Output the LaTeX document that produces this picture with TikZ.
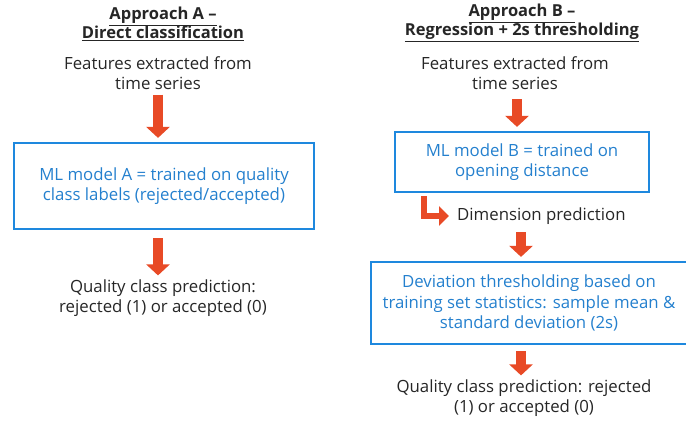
\documentclass[tikz,border=0pt]{standalone}
\usepackage{fontspec}
\setmainfont{Open Sans}
\usepackage{xcolor}
\usetikzlibrary{arrows.meta,positioning,calc}
\definecolor{boxblue}{RGB}{30,136,222}
\definecolor{textblue}{RGB}{36,128,206}
\definecolor{arrred}{RGB}{232,74,38}
\definecolor{txtdark}{RGB}{38,38,38}
\tikzset{
  title/.style={align=center, font=\fontsize{16.5}{19}\selectfont\bfseries, text=txtdark, inner sep=0pt},
  plain/.style={align=center, font=\fontsize{16.8}{20}\selectfont, text=txtdark, inner sep=0pt},
  mlbox/.style={draw=boxblue, line width=2.2pt, align=center, text=textblue,
                font=\fontsize{16.8}{20.5}\selectfont, inner sep=0pt},
  fatarrow/.style={draw=arrred, line width=10pt, -{Triangle[length=11pt,width=23pt]},
                   line join=miter},
  bentarrow/.style={draw=arrred, line width=6.5pt, -{Triangle[length=10pt,width=19pt]},
                   line join=miter},
}

\begin{document}
\begin{tikzpicture}[x=1pt, y=-1pt]
    \useasboundingbox (0,0) rectangle (686,423);
    % approach A
    \node[title] (titA) at (163,24) {\underline{Approach A --}\\\underline{Direct classification}};
    \node[plain] (featA) at (158,73) {Features extracted from\\time series};
    \node[mlbox, minimum width=300pt, minimum height=86pt] (mlA) at (164,186)
      {ML model A = trained on quality\\class labels (rejected/accepted)};
    \node[plain] (predA) at (163,298) {Quality class prediction:\\rejected (1) or accepted (0)};
    \draw[fatarrow, shorten <=5pt, shorten >=4pt] (featA.south) -- (featA.south |- mlA.north);
    \draw[fatarrow, shorten <=8pt, shorten >=4pt] (featA.south |- mlA.south) -- (featA.south |- predA.north);
    % approach B
    \node[title] (titB) at (522,23) {\underline{Approach B --}\\\underline{Regression + 2s thresholding}};
    \node[plain] (featB) at (515,73) {Features extracted from\\time series};
    \node[mlbox, minimum width=254pt, minimum height=60pt] (mlB) at (522,162)
      {ML model B = trained on\\opening distance};
    \node[plain, anchor=west] (dimB) at (457,216) {Dimension prediction};
    \node[mlbox, minimum width=316pt, minimum height=82pt] (devB) at (529,303)
      {Deviation thresholding based on\\training set statistics: sample mean \&\\standard deviation (2s)};
    \node[plain] (predB) at (524,398) {Quality class prediction: rejected\\(1) or accepted (0)};
    \draw[fatarrow, shorten <=6pt, shorten >=4pt] (517,93) coordinate (b0) -- (b0 |- mlB.north);
    \draw[bentarrow, shorten <=4pt, shorten >=8pt] (424,192) coordinate (b1) |- (dimB.west);
    \draw[fatarrow, shorten <=7pt, shorten >=4pt] (521,225) coordinate (b2) -- (b2 |- devB.north);
    \draw[fatarrow, shorten <=7pt, shorten >=4pt] (521,344) coordinate (b3) -- (b3 |- predB.north);
\end{tikzpicture}
\end{document}
